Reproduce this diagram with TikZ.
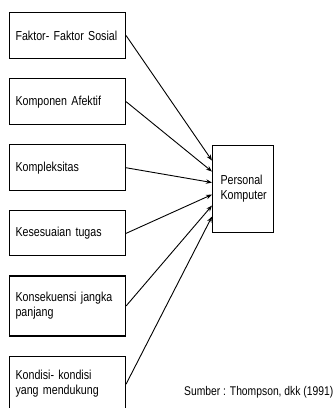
\documentclass[tikz,border=0pt]{standalone}
\usepackage{fontspec}
\setmainfont[FakeStretch=0.82]{Liberation Sans}
\usetikzlibrary{arrows.meta,positioning}

\begin{document}
\begin{tikzpicture}[
  x=1pt, y=-1pt,
  node distance=19pt,
  box/.style={draw, line width=1.1pt, align=left, text width=104pt, inner xsep=6pt, inner ysep=2pt, font=\fontsize{13}{15}\selectfont},
  pkbox/.style={box, text width=45pt, inner xsep=8pt, minimum height=87pt},
  arr/.style={-{Stealth[length=6pt,width=4.5pt]}, line width=0.9pt}
]
\useasboundingbox (0,0) rectangle (335,408);
\node[box, anchor=north west, minimum height=46pt] (sosial) at (9,12) {Faktor- Faktor Sosial};
\node[box, below=of sosial, minimum height=46pt] (afektif) {Komponen Afektif};
\node[box, below=of afektif, minimum height=46pt] (kompleks) {Kompleksitas};
\node[box, below=of kompleks, minimum height=45pt] (tugas) {Kesesuaian tugas};
\node[box, below=of tugas, minimum height=60pt] (konsek) {Konsekuensi jangka\\panjang};
\node[box, below=of konsek, minimum height=56pt] (kondisi) {Kondisi- kondisi\\yang mendukung};
\node[pkbox, anchor=north west] (pk) at (212,145) {Personal\\Komputer};
\node[anchor=west, inner sep=0pt, font=\fontsize{12.6}{15}\selectfont] (sumber) at (184,392) {Sumber : Thompson, dkk (1991)};

\draw[arr] (sosial.east) -- ([yshift=28.5pt]pk.west);
\draw[arr] (afektif.east) -- ([yshift=17.5pt]pk.west);
\draw[arr] (kompleks.east) -- ([yshift=6.5pt]pk.west);
\draw[arr] (tugas.east) -- ([yshift=-5.5pt]pk.west);
\draw[arr] (konsek.east) -- ([yshift=-16.5pt]pk.west);
\draw[arr] (kondisi.east) -- ([yshift=-27.5pt]pk.west);
\end{tikzpicture}
\end{document}
